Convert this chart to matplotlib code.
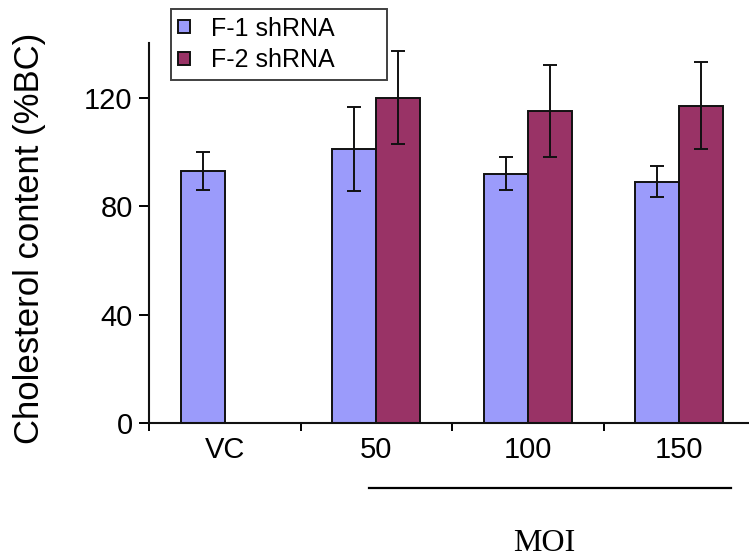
import numpy as np
import matplotlib
matplotlib.use("Agg")
import matplotlib.pyplot as plt
from matplotlib.lines import Line2D

# Cholesterol content after shRNA knockdown at increasing MOI
groups = ["VC", "50", "100", "150"]
f1_mean = [93.0, 101.0, 92.0, 89.0]
f1_err = [7.0, 15.5, 6.0, 5.7]
f2_mean = [np.nan, 120.0, 115.0, 117.0]
f2_err = [np.nan, 17.0, 17.0, 16.0]
series_labels = ["F-1 shRNA", "F-2 shRNA"]

plt.rcParams["font.family"] = ["Liberation Sans", "DejaVu Sans"]

W, H = 749, 557
fig = plt.figure(figsize=(W / 100, H / 100), dpi=100)

# axes box in pixel terms: left spine at x=149, x-axis at y=423, top at y=43
left, bottom, top = 149.3, 423.3, 43.3
group_px = 151.4
right = left + 4 * group_px
ax = fig.add_axes([left / W, 1 - bottom / H, (right - left) / W, (bottom - top) / H])

x = np.arange(len(groups))
bw = 0.29
c1, c2 = "#9b9bfb", "#993366"
edge = "#111111"

b1 = ax.bar(x - bw / 2, f1_mean, bw, color=c1, edgecolor=edge, linewidth=1.4,
            label=series_labels[0], zorder=2)
b2 = ax.bar(x + bw / 2, f2_mean, bw, color=c2, edgecolor=edge, linewidth=1.4,
            label=series_labels[1], zorder=2)
ekw = dict(fmt="none", ecolor=edge, elinewidth=1.4, capsize=5.0, capthick=1.4, zorder=3)
ax.errorbar(x - bw / 2, f1_mean, yerr=f1_err, **ekw)
ax.errorbar(x + bw / 2, f2_mean, yerr=f2_err, **ekw)

ax.set_xlim(-0.5, len(groups) - 0.5)
ax.set_ylim(0, 140)
ax.set_yticks([0, 40, 80, 120])

# tick marks between the groups, labels under the group centres
ax.set_xticks(np.arange(len(groups)) - 0.5)
ax.set_xticklabels([])
ax.set_xticks(x, minor=True)
ax.set_xticklabels(groups, minor=True)
ax.tick_params(axis="x", which="major", length=6, width=1.4, direction="out")
ax.tick_params(axis="x", which="minor", length=0, pad=9, labelsize=21)
ax.tick_params(axis="y", length=7, width=1.4, direction="out", pad=5, labelsize=21)

for s in ("top", "right"):
    ax.spines[s].set_visible(False)
for s in ("left", "bottom"):
    ax.spines[s].set_linewidth(1.5)
    ax.spines[s].set_color(edge)

fig.text(30 / W, 1 - 238 / H, "Cholesterol content (%BC)", rotation=90,
         ha="center", va="center", fontsize=25)

# legend stretched to a wide box (extra room on the right of the labels)
leg = fig.legend(handles=[b1, b2], labels=series_labels,
                 loc="upper left",
                 bbox_to_anchor=(170.7 / W, 1 - 76 / H, 216.6 / W, 66.7 / H),
                 mode="expand",
                 fontsize=18, frameon=True, fancybox=False, edgecolor=edge,
                 handlelength=0.48, handleheight=0.42, handletextpad=0.85,
                 labelspacing=0.3, borderpad=0.3, borderaxespad=0)
leg.get_frame().set_linewidth(1.4)

# bracket line over the MOI groups and its caption
fig.add_artist(Line2D([369 / W, 730.7 / W], [1 - 487.7 / H] * 2,
                      transform=fig.transFigure, color="black", linewidth=1.6))
fig.text(544.5 / W, 1 - 550.7 / H, "MOI", ha="center", va="baseline",
         fontsize=23, family=["Liberation Serif", "DejaVu Serif"])

fig.savefig("out.png", dpi=100)
